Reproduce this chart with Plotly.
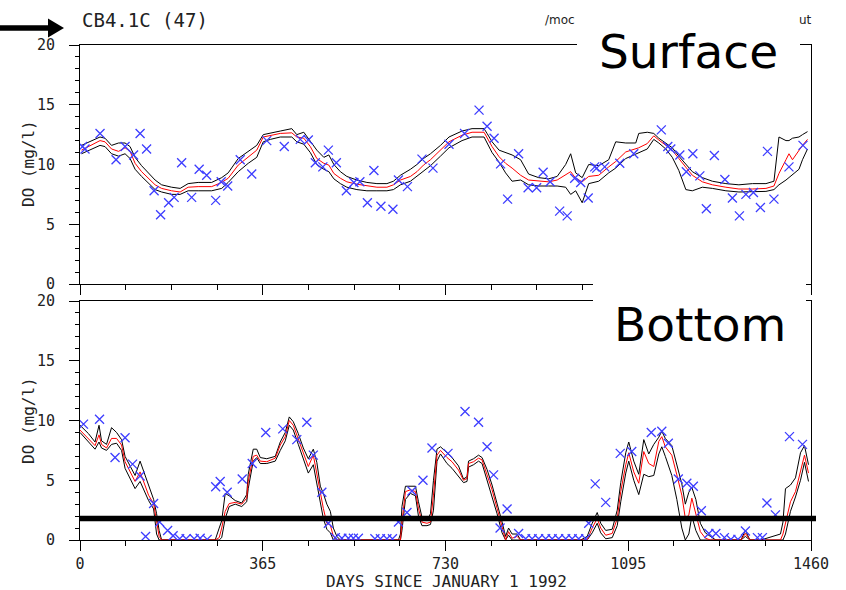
import plotly.graph_objects as go

# ---------------- Surface DO (mg/l) ----------------
TOP_DAYS = [3, 20, 40, 50, 63, 77, 90, 100, 110, 123,
            137, 150, 163, 183, 200, 216, 236, 263, 283, 296,
            316, 336, 353, 366, 380, 400, 423, 433, 447, 460,
            473, 487, 497, 507, 520, 533, 553, 573, 593, 613,
            626, 640, 660, 673, 686, 700, 720, 737, 763, 783,
            807, 813, 823, 837, 850, 863, 880, 896, 916, 936,
            953, 970, 980, 990, 1003, 1016, 1036, 1056, 1070, 1090,
            1110, 1116, 1133, 1146, 1156, 1170, 1183, 1196, 1210, 1223,
            1243, 1263, 1290, 1316, 1343, 1370, 1386, 1396, 1410, 1416,
            1423, 1436, 1443, 1453]
TOP_MODEL = [11.2, 11.6, 12.0, 11.9, 11.3, 11.1, 11.4, 11.1, 10.1, 9.4,
             8.85, 8.3, 8.0, 7.8, 7.7, 8.1, 8.15, 8.15, 8.5, 8.85,
             9.95, 10.65, 11.2, 12.3, 12.45, 12.6, 12.65, 12.3, 12.2, 11.5,
             10.5, 10.1, 9.95, 9.25, 8.85, 8.55, 8.35, 8.2, 8.1, 8.1,
             8.3, 8.7, 9.0, 9.4, 9.95, 10.4, 11.2, 11.9, 12.45, 12.7,
             12.7, 12.2, 11.5, 10.65, 10.1, 9.7, 9.1, 8.7, 8.6, 8.55,
             8.7, 9.1, 9.4, 8.85, 8.55, 9.0, 9.1, 9.8, 10.25, 11.05,
             11.35, 11.4, 11.75, 12.4, 12.05, 11.6, 11.2, 10.5, 9.8, 9.1,
             8.55, 8.3, 8.1, 7.95, 7.95, 8.0, 8.2, 9.25, 10.4, 10.9,
             10.4, 11.2, 11.6, 12.1]
TOP_MAX = [11.6, 11.9, 12.3, 12.2, 11.6, 11.8, 11.8, 11.5, 10.6, 9.9,
           9.3, 8.7, 8.3, 8.1, 8.0, 8.4, 8.5, 8.5, 8.9, 9.3,
           10.5, 11.1, 11.6, 12.5, 12.6, 12.8, 13.0, 12.5, 12.7, 12.0,
           11.2, 10.6, 10.8, 10.0, 9.4, 9.0, 8.7, 8.5, 8.4, 8.4,
           8.6, 9.1, 9.6, 10.0, 10.5, 10.9, 11.6, 12.3, 12.8, 13.0,
           13.0, 12.6, 11.9, 11.2, 11.0, 10.8, 10.4, 9.2, 8.9, 8.8,
           9.0, 10.0, 10.9, 9.3, 8.9, 10.0, 9.9, 10.4, 11.9, 11.8,
           11.8, 12.6, 12.7, 12.6, 12.2, 11.8, 11.4, 10.7, 10.0, 9.4,
           8.9, 8.6, 8.4, 8.3, 8.4, 8.4, 8.6, 12.3, 12.0, 12.0,
           12.2, 12.3, 12.5, 12.75]
TOP_MIN = [10.9, 11.2, 11.6, 11.5, 10.9, 10.7, 10.9, 10.5, 9.6, 9.0,
           8.4, 7.9, 7.7, 7.5, 7.5, 7.8, 7.8, 7.8, 8.0, 8.5,
           9.4, 10.1, 10.6, 11.9, 12.1, 12.3, 12.3, 11.9, 11.7, 11.0,
           10.0, 9.6, 9.4, 8.8, 8.4, 8.1, 7.9, 7.8, 7.8, 7.8,
           7.9, 8.3, 8.6, 9.0, 9.4, 9.9, 10.7, 11.4, 12.0, 12.3,
           12.3, 11.8, 11.0, 10.2, 9.3, 8.6, 8.7, 8.3, 8.2, 8.2,
           8.2, 8.1, 7.5, 7.8, 6.8, 8.4, 8.6, 9.3, 9.7, 10.5,
           10.9, 11.0, 11.3, 12.1, 11.8, 11.3, 10.6, 9.5, 7.9, 7.8,
           8.1, 8.0, 7.8, 7.7, 7.7, 7.75, 7.9, 8.3, 8.7, 8.9,
           9.1, 9.6, 10.4, 11.3]
TOP_OBS_DAY = [5, 10, 40, 72, 90, 107, 120, 133, 148, 161,
               177, 188, 203, 223, 238, 253, 271, 282, 295, 320,
               343, 373, 408, 440, 456, 470, 485, 496, 512, 532,
               547, 559, 574, 587, 601, 625, 636, 654, 683, 705,
               737, 768, 797, 813, 827, 840, 854, 876, 895, 912,
               925, 939, 958, 973, 988, 1000, 1015, 1028, 1032, 1048,
               1078, 1106, 1161, 1174, 1180, 1198, 1211, 1224, 1238, 1251,
               1267, 1288, 1303, 1317, 1330, 1345, 1359, 1373, 1386, 1416,
               1444]
TOP_OBS = [11.5, 11.3, 12.6, 10.4, 11.5, 10.8, 12.6, 11.3, 7.8, 5.8,
           6.8, 7.25, 10.15, 7.25, 9.6, 9.1, 7.0, 8.55, 8.2, 10.4,
           9.2, 12.0, 11.5, 12.1, 12.05, 10.15, 9.8, 11.2, 10.15, 7.8,
           8.5, 8.55, 6.8, 9.5, 6.5, 6.25, 8.7, 8.15, 10.45, 9.7,
           11.7, 12.6, 14.55, 13.2, 12.2, 10.05, 7.1, 10.9, 8.05, 8.05,
           9.35, 8.55, 6.1, 5.7, 8.85, 8.5, 7.2, 9.8, 9.7, 9.8,
           10.1, 10.9, 12.9, 11.5, 11.3, 10.8, 9.4, 10.9, 9.05, 6.3,
           10.75, 8.75, 7.2, 5.7, 7.5, 7.65, 6.4, 11.1, 7.1, 9.8,
           11.6]

# ---------------- Bottom DO (mg/l) ----------------
BOT_DAYS = [0, 17, 30, 38, 43, 53, 63, 73, 83, 90,
            100, 110, 120, 127, 137, 147, 153, 158, 163, 200,
            250, 270, 278, 283, 290, 298, 310, 323, 333, 336,
            346, 353, 360, 373, 390, 400, 410, 418, 426, 436,
            446, 456, 466, 473, 480, 486, 493, 500, 506, 513,
            520, 560, 600, 636, 640, 643, 650, 660, 670, 676,
            683, 693, 700, 706, 713, 720, 733, 743, 756, 766,
            773, 776, 786, 796, 803, 813, 823, 833, 843, 850,
            856, 863, 873, 880, 920, 960, 1000, 1013, 1023, 1033,
            1040, 1050, 1063, 1073, 1080, 1090, 1096, 1106, 1116, 1126,
            1136, 1146, 1156, 1162, 1169, 1182, 1192, 1202, 1209, 1216,
            1222, 1230, 1239, 1249, 1259, 1270, 1300, 1320, 1329, 1338,
            1360, 1399, 1404, 1409, 1419, 1429, 1439, 1447, 1455]
BOT_MODEL = [9.2, 8.5, 7.9, 8.8, 8.0, 7.7, 8.5, 8.5, 7.95, 6.55,
             5.7, 4.9, 5.7, 4.9, 3.75, 3.05, 1.5, 0.3, 0.0, 0.0,
             0.0, 0.0, 0.2, 1.0, 2.4, 3.05, 3.15, 3.0, 3.5, 4.9,
             7.0, 7.1, 6.6, 6.55, 6.85, 7.95, 8.65, 10.0, 9.6, 8.5,
             7.4, 6.15, 7.1, 5.45, 3.9, 2.65, 1.4, 1.25, 0.3, 0.0,
             0.0, 0.0, 0.0, 0.0, 0.0, 1.5, 4.05, 4.2, 4.05, 2.65,
             1.5, 1.4, 1.5, 3.75, 7.1, 7.5, 6.9, 6.55, 5.85, 5.0,
             5.15, 6.4, 6.55, 6.85, 6.7, 5.45, 4.2, 2.65, 1.0, 0.0,
             0.7, 0.15, 0.3, 0.0, 0.0, 0.0, 0.0, 0.0, 1.0, 1.8,
             1.0, 0.4, 0.55, 1.8, 4.05, 6.3, 7.3, 5.7, 4.75, 7.4,
             6.4, 6.15, 8.25, 8.65, 7.8, 7.1, 5.45, 3.75, 1.8, 2.1,
             3.5, 2.1, 0.7, 0.15, 0.0, 0.0, 0.0, 0.0, 0.55, 0.0,
             0.0, 0.0, 0.5, 1.5, 3.2, 4.05, 5.7, 7.1, 5.6]
BOT_MAX = [9.6, 8.9, 8.2, 9.6, 8.3, 8.0, 9.4, 9.0, 8.4, 7.0,
           6.2, 5.4, 6.6, 5.8, 4.5, 3.4, 2.2, 0.8, 0.0, 0.0,
           0.0, 0.0, 1.0, 1.6, 3.9, 3.7, 3.3, 3.1, 3.8, 5.5,
           7.6, 7.6, 6.9, 6.8, 7.0, 8.2, 9.0, 10.3, 9.9, 8.9,
           7.7, 6.8, 7.6, 6.5, 4.5, 3.9, 3.0, 2.4, 1.0, 0.3,
           0.0, 0.0, 0.0, 0.0, 0.5, 2.8, 4.5, 4.5, 4.5, 3.2,
           1.9, 1.6, 2.2, 5.0, 7.6, 7.8, 7.3, 6.9, 6.2, 5.1,
           5.3, 6.6, 6.8, 7.1, 6.9, 5.9, 4.6, 3.1, 1.5, 0.3,
           1.0, 0.5, 0.5, 0.0, 0.0, 0.0, 0.0, 0.3, 1.4, 2.3,
           1.4, 0.8, 0.9, 2.5, 4.8, 7.3, 8.2, 6.6, 5.5, 8.4,
           7.2, 8.0, 8.6, 9.1, 8.5, 7.9, 6.4, 4.7, 3.0, 4.0,
           4.4, 3.4, 1.4, 0.6, 0.3, 0.0, 0.0, 0.0, 0.8, 0.0,
           0.0, 0.5, 1.5, 4.3, 4.6, 5.2, 7.3, 7.9, 6.3]
BOT_MIN = [9.0, 8.2, 7.6, 8.2, 7.7, 7.5, 8.0, 8.1, 7.5, 6.0,
           5.2, 4.3, 4.9, 4.2, 3.3, 2.6, 0.5, 0.0, 0.0, 0.0,
           0.0, 0.0, 0.0, 0.2, 1.8, 2.8, 3.0, 2.8, 3.2, 4.3,
           6.6, 6.9, 6.4, 6.4, 6.6, 7.5, 8.3, 9.6, 9.2, 8.0,
           6.8, 5.6, 6.3, 4.6, 3.0, 1.8, 0.9, 0.6, 0.0, 0.0,
           0.0, 0.0, 0.0, 0.0, 0.0, 0.8, 3.4, 3.9, 3.7, 2.0,
           1.2, 1.2, 1.3, 2.5, 6.6, 7.2, 6.4, 6.0, 5.3, 4.8,
           4.9, 6.1, 6.3, 6.6, 6.4, 5.0, 3.8, 2.2, 0.6, 0.0,
           0.4, 0.0, 0.0, 0.0, 0.0, 0.0, 0.0, 0.0, 0.6, 1.4,
           0.6, 0.1, 0.2, 1.2, 3.2, 5.6, 6.6, 5.0, 3.8, 5.5,
           5.3, 5.4, 7.2, 7.8, 7.0, 5.4, 3.4, 1.0, 0.0, 0.5,
           2.0, 0.8, 0.0, 0.0, 0.0, 0.0, 0.0, 0.0, 0.3, 0.0,
           0.0, 0.0, 0.0, 0.5, 2.4, 3.6, 5.0, 6.5, 4.9]
BOT_OBS_DAY = [7, 39, 70, 90, 105, 120, 131, 147, 159, 175,
               186, 199, 212, 228, 240, 254, 271, 280, 294, 324,
               344, 371, 405, 433, 453, 466, 483, 496, 510, 523,
               536, 546, 556, 589, 600, 613, 624, 636, 653, 663,
               685, 703, 735, 769, 796, 813, 826, 839, 853, 876,
               890, 903, 916, 930, 943, 956, 970, 983, 996, 1010,
               1016, 1029, 1050, 1079, 1102, 1141, 1162, 1175, 1195, 1212,
               1225, 1241, 1256, 1270, 1287, 1300, 1314, 1329, 1353, 1363,
               1372, 1389, 1417, 1443]
BOT_OBS = [9.7, 10.1, 6.9, 8.55, 6.35, 5.35, 0.3, 3.05, 1.5, 0.8,
           0.35, 0.1, 0.1, 0.1, 0.15, 0.05, 4.45, 4.9, 4.0, 5.1,
           6.4, 9.0, 9.3, 8.4, 9.85, 7.1, 4.0, 1.4, 0.2, 0.15,
           0.15, 0.15, 0.15, 0.1, 0.1, 0.1, 0.1, 1.5, 2.3, 4.1,
           5.0, 7.7, 7.25, 10.75, 9.85, 7.8, 5.45, 1.0, 2.6, 0.55,
           0.1, 0.1, 0.1, 0.1, 0.1, 0.1, 0.1, 0.1, 0.1, 0.1,
           1.4, 4.7, 3.15, 7.25, 7.4, 9.0, 9.1, 8.1, 5.1, 4.75,
           4.5, 2.45, 0.55, 0.55, 0.2, 0.05, 0.05, 0.75, 0.2, 0.2,
           3.1, 2.1, 8.65, 8.0]

DO_CRITERION = 1.8
X_TICKS = [0, 365, 730, 1095, 1460]

W, H = 846, 590
FONT = "DejaVu Sans Mono"
OBS_BLUE = "#3d3dff"


def px(x):
    return x / W


def py(y):
    return 1 - y / H


fig = go.Figure()

for days, hi, lo, mid, od, ov, xa, ya in [
    (TOP_DAYS, TOP_MAX, TOP_MIN, TOP_MODEL, TOP_OBS_DAY, TOP_OBS, "x", "y"),
    (BOT_DAYS, BOT_MAX, BOT_MIN, BOT_MODEL, BOT_OBS_DAY, BOT_OBS, "x2", "y2"),
]:
    for band in (hi, lo):
        fig.add_trace(go.Scatter(x=days, y=band, mode="lines", xaxis=xa, yaxis=ya,
                                 line=dict(color="black", width=1), showlegend=False))
    fig.add_trace(go.Scatter(x=days, y=mid, mode="lines", xaxis=xa, yaxis=ya,
                             line=dict(color="red", width=1), showlegend=False))
    fig.add_trace(go.Scatter(x=od, y=ov, mode="markers", xaxis=xa, yaxis=ya,
                             marker=dict(symbol="x-thin-open", size=9, color=OBS_BLUE,
                                         line=dict(color=OBS_BLUE, width=1.3)),
                             showlegend=False))

tickfont = dict(family=FONT, size=15, color="#222")
xbase = dict(range=[0, 1460], domain=[px(80), px(811)], showline=True, linecolor="black",
             linewidth=1, mirror=True, ticks="outside", ticklen=10, tickwidth=1,
             tickcolor="black", tickmode="array", tickvals=X_TICKS,
             ticktext=[str(v) for v in X_TICKS],
             minor=dict(ticks="outside", ticklen=5, tick0=0, dtick=91.25, tickcolor="black"),
             showgrid=False, zeroline=False, tickfont=tickfont, automargin=False,
             ticklabelstandoff=0)
ybase = dict(range=[0, 20], showline=True, linecolor="black", linewidth=1, mirror=True,
             ticks="outside", ticklen=10, tickwidth=1, tickcolor="black", tick0=0, dtick=5,
             minor=dict(ticks="outside", ticklen=4, tick0=0, dtick=1, tickcolor="black"),
             showgrid=False, zeroline=False, tickfont=tickfont, automargin=False,
             ticklabelstandoff=11)

fig.update_layout(
    template="none",
    width=W, height=H, autosize=False,
    margin=dict(l=0, r=0, t=0, b=0, pad=0),
    paper_bgcolor="white", plot_bgcolor="white",
    showlegend=False,
    xaxis=dict(xbase, anchor="y", showticklabels=False),
    yaxis=dict(ybase, anchor="x", domain=[py(284), py(45)]),
    xaxis2=dict(xbase, anchor="y2"),
    yaxis2=dict(ybase, anchor="x2", domain=[py(540), py(301)]),
)

shapes = [
    # low-oxygen criterion line across the bottom panel
    dict(type="line", xref="paper", yref="y2", x0=px(80), x1=px(816),
         y0=DO_CRITERION, y1=DO_CRITERION, line=dict(color="black", width=5.5), layer="above"),
    # white label panels
    dict(type="rect", xref="paper", yref="paper", x0=px(577), x1=px(800), y0=py(82), y1=py(0),
         fillcolor="white", line=dict(width=0), layer="above"),
    dict(type="rect", xref="paper", yref="paper", x0=px(593), x1=px(806), y0=py(352), y1=py(280),
         fillcolor="white", line=dict(width=0), layer="above"),
    # pointer arrow next to the station name
    dict(type="path", xref="paper", yref="paper", layer="above",
         path=(f"M{px(0)},{py(25.3)} L{px(48)},{py(25.3)} L{px(48)},{py(18.5)} "
               f"L{px(64)},{py(28)} L{px(48)},{py(37.5)} L{px(48)},{py(30.7)} "
               f"L{px(0)},{py(30.7)} Z"),
         fillcolor="black", line=dict(color="black", width=0)),
]
fig.update_layout(shapes=shapes)

ann = [
    dict(text="CB4.1C (47)", x=px(80), y=py(20), xanchor="left", yanchor="middle",
         font=dict(family=FONT, size=19, color="#222")),
    dict(text="/moc", x=px(577), y=py(20), xanchor="right", yanchor="middle",
         font=dict(family="DejaVu Sans", size=12, color="#222")),
    dict(text="ut", x=px(797), y=py(20), xanchor="left", yanchor="middle",
         font=dict(family="DejaVu Sans", size=12, color="#222")),
    dict(text="Surface", x=px(688), y=py(52), xanchor="center", yanchor="middle",
         font=dict(family="DejaVu Sans", size=47, color="black")),
    dict(text="Bottom", x=px(700), y=py(324), xanchor="center", yanchor="middle",
         font=dict(family="DejaVu Sans", size=47, color="black")),
    dict(text="DO (mg/l)", x=px(28), y=py(164), textangle=-90, xanchor="center",
         yanchor="middle", font=dict(family=FONT, size=16, color="#222")),
    dict(text="DO (mg/l)", x=px(28), y=py(421), textangle=-90, xanchor="center",
         yanchor="middle", font=dict(family=FONT, size=16, color="#222")),
    dict(text="DAYS SINCE JANUARY 1 1992", x=px(446), y=py(581), xanchor="center",
         yanchor="middle", font=dict(family=FONT, size=16, color="#222")),
]
for a in ann:
    a.update(xref="paper", yref="paper", showarrow=False)
fig.update_layout(annotations=ann)

fig.write_html("out.html")
